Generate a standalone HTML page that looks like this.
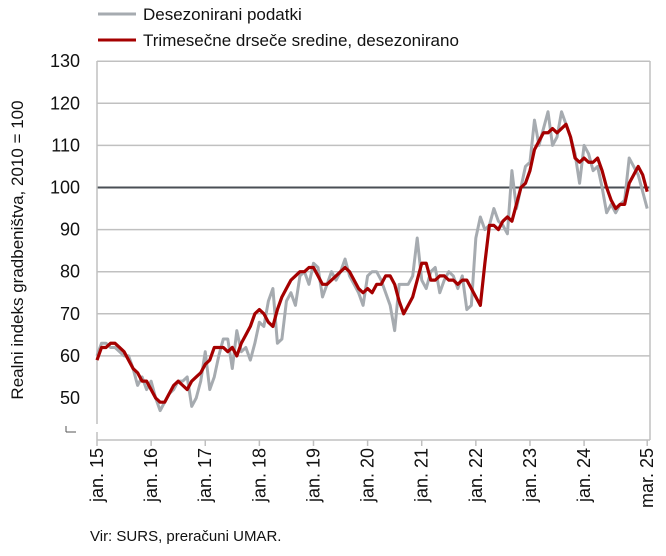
<!DOCTYPE html>
<html><head><meta charset="utf-8"><style>
body{margin:0;background:#fff;font-family:"Liberation Sans",sans-serif;}
</style></head><body>
<svg width="666" height="551" viewBox="0 0 666 551" xmlns="http://www.w3.org/2000/svg" id="chart" font-family="Liberation Sans, sans-serif">
<g>
<line x1="98" y1="14" x2="136" y2="14" stroke="#a6abb0" stroke-width="3"/>
<text x="143" y="20" font-size="17" fill="#111">Desezonirani podatki</text>
<line x1="98" y1="40" x2="136" y2="40" stroke="#a50000" stroke-width="3"/>
<text x="143" y="46" font-size="17" fill="#111">Trimesečne drseče sredine, desezonirano</text>
</g>
<text transform="translate(23,250) rotate(-90)" text-anchor="middle" font-size="17" fill="#111">Realni indeks gradbeništva, 2010 = 100</text>
<text x="90" y="541" font-size="15" fill="#111">Vir: SURS, preračuni UMAR.</text>
<g id="grid"></g><g id="axes"></g><g id="series"></g>
</svg>
<script>
const yTicks=[50,60,70,80,90,100,110,120,130];
const xLabels=["jan. 15","jan. 16","jan. 17","jan. 18","jan. 19","jan. 20","jan. 21","jan. 22","jan. 23","jan. 24","mar. 25"];
const xLabelMonths=[0,12,24,36,48,60,72,84,96,108,122];
const rawValues=[60,63,63,62,62,61,60,60,57,53,55,52,
54,50,47,49,51,52,54,54,55,48,50,54,
61,52,55,60,64,64,57,66,61,62,59,63,
68,67,73,76,63,64,73,75,72,79,80,77,
82,81,74,77,80,78,80,83,79,77,75,72,
79,80,80,78,75,72,66,77,77,77,79,88,
78,76,80,81,75,78,80,79,76,79,71,72,
88,93,90,91,95,92,91,89,104,95,100,105,
106,116,110,114,118,110,112,118,115,112,108,101,
110,108,104,105,100,94,96,94,96,97,107,105,
103,99,95];
const avgValues=[59,62,62,63,63,62,61,59,57,56,54,54,
52,50,49,49,51,53,54,53,52,54,55,56,
58,59,62,62,62,61,62,60,63,65,67,70,
71,70,68,67,71,74,76,78,79,80,80,81,
81,79,77,77,78,79,80,81,80,78,76,75,
76,75,77,77,79,79,77,73,70,72,74,78,
82,82,78,78,79,79,78,78,77,78,78,76,
74,72,82,91,91,90,92,93,92,96,100,101,
104,109,111,113,113,114,113,114,115,112,107,106,
107,106,106,107,104,100,97,95,96,96,101,103,
105,103,99];
const NS="http://www.w3.org/2000/svg";
const X0=97,PX=4.51,Y50=398,PY=4.21;
const xs=m=>X0+m*PX, ys=v=>Y50-(v-50)*PY;
function mk(tag,attrs,parent){const e=document.createElementNS(NS,tag);for(const k in attrs)e.setAttribute(k,attrs[k]);document.getElementById(parent).appendChild(e);return e;}
yTicks.forEach(v=>{
 if(v>50){const l=mk('line',{x1:X0,x2:650,y1:ys(v),y2:ys(v),stroke:v===100?'#4a4f55':'#c0c0c0','stroke-width':v===100?2:1.5},'grid');
 
 }
 const t=mk('text',{x:80,y:ys(v)+6,'text-anchor':'end','font-size':18,fill:'#111'},'axes');t.textContent=v;
 
 
});
const ax=mk('path',{d:`M${X0} 61V${ys(50)+26} M${X0} ${ys(50)+34}V440 M${X0} 440H650 M650 61V440`,stroke:'#c0c0c0','stroke-width':1.5,fill:'none'},'axes');


const br=mk('path',{d:`M66 432H76 M66 432V426`,stroke:'#555','stroke-width':1,fill:'none'},'axes');


xLabels.forEach((s,i)=>{
 const x=xs(xLabelMonths[i]);
 const tk=mk('line',{x1:x,x2:x,y1:440,y2:446,stroke:'#c0c0c0','stroke-width':1.5},'axes');
 
 
 const t=mk('text',{transform:`translate(${x+6},448) rotate(-90)`,'text-anchor':'end','font-size':18,fill:'#111'},'axes');t.textContent=s;
 
 
});
function line(vals,color,w,name){
 const p=mk('polyline',{points:vals.map((v,i)=>xs(i)+','+ys(v)).join(' '),fill:'none',stroke:color,'stroke-width':w,'stroke-linejoin':'round'},'series');
 
 
}
line(rawValues,'#a6abb0',3,'series-raw');
line(avgValues,'#a50000',3.2,'series-moving-average');
</script>
</body></html>
